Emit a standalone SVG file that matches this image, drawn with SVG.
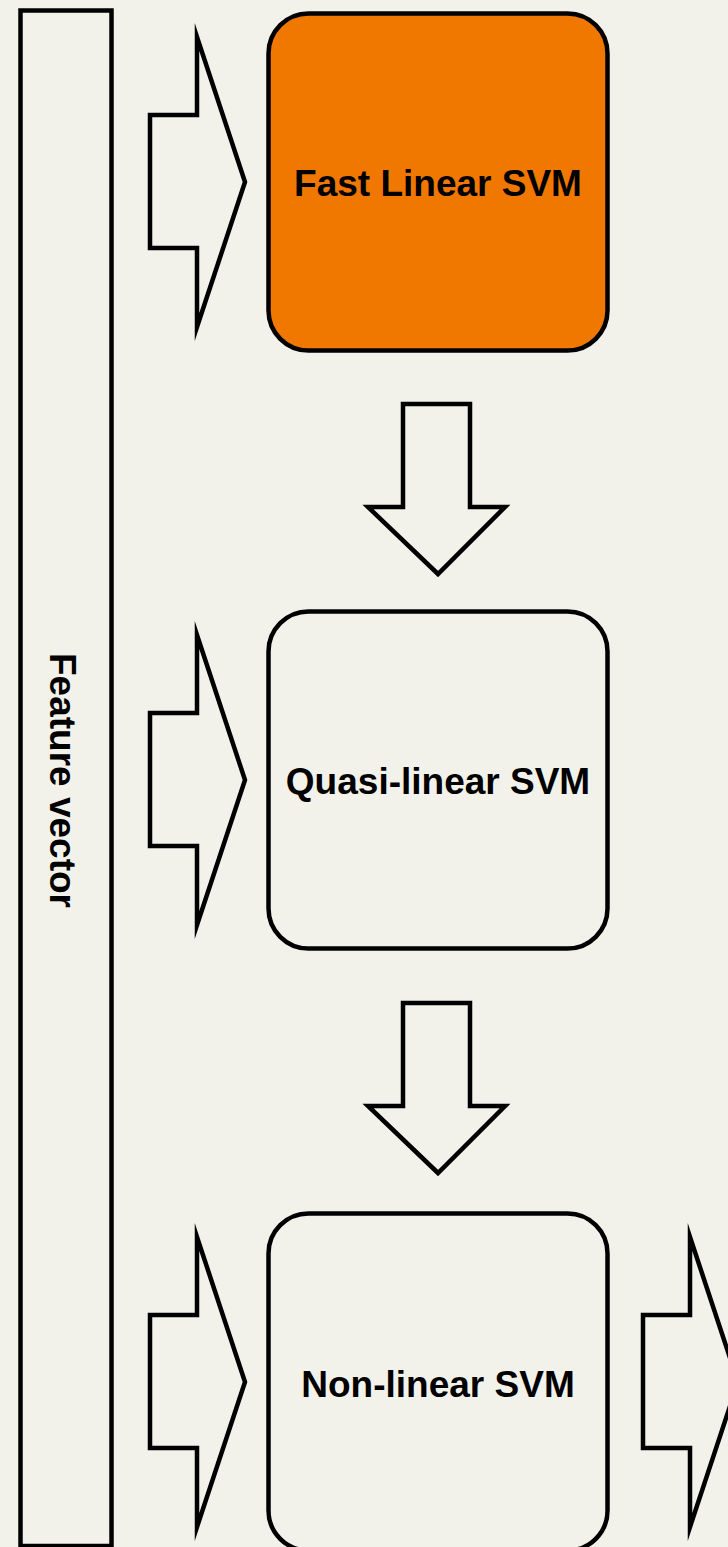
<svg xmlns="http://www.w3.org/2000/svg" width="728" height="1547" viewBox="0 0 728 1547">
  <defs>
    <style>
      .shape { fill: #F2F2EA; stroke: #000; stroke-width: 4.5; stroke-miterlimit: 10; }
      .box { stroke: #000; stroke-width: 4.5; }
      .label { font-family: "Liberation Sans", Arial, Helvetica, sans-serif; font-weight: bold; font-size: 37px; fill: #000; text-anchor: middle; }
    </style>
    <!-- block arrow pointing right, origin at its left edge / top -->
    <polygon id="arrowRight" points="0,78 47,78 47,0 95,145 47,290 47,211 0,211"/>
    <!-- block arrow pointing down -->
    <polygon id="arrowDown" points="35,0 102,0 102,103 137,103 70,170 0,103 35,103"/>
  </defs>

  <rect width="728" height="1547" fill="#F2F2EA"/>

  <!-- input bar -->
  <g id="feature-vector">
    <rect class="shape" x="20.5" y="10.5" width="91" height="1535.5"/>
    <text class="label" transform="translate(50,780.5) rotate(90)">Feature vector</text>
  </g>

  <!-- classifier stages -->
  <g id="fast-linear-svm">
    <rect class="box" x="268.5" y="13.5" width="339" height="337" rx="40" ry="40" fill="#F07700"/>
    <text class="label" x="438" y="196">Fast Linear SVM</text>
  </g>

  <g id="quasi-linear-svm">
    <rect class="box" x="268.5" y="611.5" width="339" height="337" rx="40" ry="40" fill="#F2F2EA"/>
    <text class="label" x="438" y="794">Quasi-linear SVM</text>
  </g>

  <g id="non-linear-svm">
    <rect class="box" x="268.5" y="1213.5" width="339" height="337" rx="40" ry="40" fill="#F2F2EA"/>
    <text class="label" x="438" y="1397">Non-linear SVM</text>
  </g>

  <!-- flow arrows -->
  <g id="connectors">
    <use href="#arrowRight" class="shape" x="150" y="37"/>
    <use href="#arrowRight" class="shape" x="150" y="635"/>
    <use href="#arrowRight" class="shape" x="150" y="1237"/>
    <use href="#arrowDown" class="shape" x="368" y="404"/>
    <use href="#arrowDown" class="shape" x="368" y="1003"/>
    <use href="#arrowRight" class="shape" x="643" y="1237"/>
  </g>
</svg>
